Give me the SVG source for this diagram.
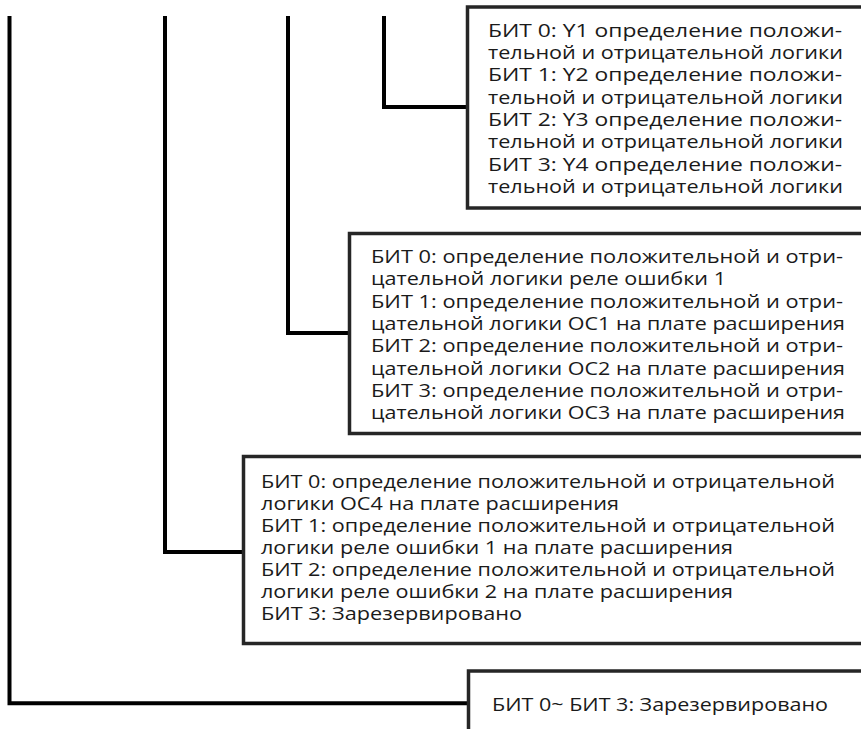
<svg xmlns="http://www.w3.org/2000/svg" width="861" height="729" viewBox="0 0 861 729">
<style>
.conn{fill:none;stroke:#000;stroke-width:4;stroke-linejoin:miter;stroke-linecap:butt}
.box{fill:#fff;stroke:#262626;stroke-width:3.5}
.t{font-family:"Open Sans","Noto Sans","DejaVu Sans",sans-serif;font-size:17.5px;fill:#1a1a1a}
</style>
<rect width="861" height="729" fill="#fff"/>
<g id="connectors">
<path class="conn" d="M384,16 V107 H467"/>
<path class="conn" d="M288,16 V333 H349"/>
<path class="conn" d="M165,16 V552 H243"/>
<path class="conn" d="M9.5,16 V703.3 H468"/>
</g>
<g id="node-bits-y">
<rect class="box" x="467.5" y="7" width="420" height="201"/>
<text class="t" x="488" y="36.7" textLength="354" lengthAdjust="spacingAndGlyphs">БИТ 0: Y1 определение положи-</text>
<text class="t" x="488" y="59" textLength="355" lengthAdjust="spacingAndGlyphs">тельной и отрицательной логики</text>
<text class="t" x="488" y="81.3" textLength="354" lengthAdjust="spacingAndGlyphs">БИТ 1: Y2 определение положи-</text>
<text class="t" x="488" y="103.6" textLength="355" lengthAdjust="spacingAndGlyphs">тельной и отрицательной логики</text>
<text class="t" x="488" y="125.9" textLength="354" lengthAdjust="spacingAndGlyphs">БИТ 2: Y3 определение положи-</text>
<text class="t" x="488" y="148.2" textLength="355" lengthAdjust="spacingAndGlyphs">тельной и отрицательной логики</text>
<text class="t" x="488" y="170.5" textLength="354" lengthAdjust="spacingAndGlyphs">БИТ 3: Y4 определение положи-</text>
<text class="t" x="488" y="192.8" textLength="355" lengthAdjust="spacingAndGlyphs">тельной и отрицательной логики</text>
</g>
<g id="node-bits-oc">
<rect class="box" x="349.5" y="233.5" width="560" height="200"/>
<text class="t" x="371" y="263" textLength="472" lengthAdjust="spacingAndGlyphs">БИТ 0: определение положительной и отри-</text>
<text class="t" x="371" y="285.3" textLength="355" lengthAdjust="spacingAndGlyphs">цательной логики реле ошибки 1</text>
<text class="t" x="371" y="307.6" textLength="472" lengthAdjust="spacingAndGlyphs">БИТ 1: определение положительной и отри-</text>
<text class="t" x="371" y="329.9" textLength="474" lengthAdjust="spacingAndGlyphs">цательной логики ОС1 на плате расширения</text>
<text class="t" x="371" y="352.2" textLength="472" lengthAdjust="spacingAndGlyphs">БИТ 2: определение положительной и отри-</text>
<text class="t" x="371" y="374.5" textLength="474" lengthAdjust="spacingAndGlyphs">цательной логики ОС2 на плате расширения</text>
<text class="t" x="371" y="396.8" textLength="472" lengthAdjust="spacingAndGlyphs">БИТ 3: определение положительной и отри-</text>
<text class="t" x="371" y="419.1" textLength="474" lengthAdjust="spacingAndGlyphs">цательной логики ОС3 на плате расширения</text>
</g>
<g id="node-bits-ext">
<rect class="box" x="243.5" y="456.5" width="660" height="187"/>
<text class="t" x="261" y="488" textLength="574" lengthAdjust="spacingAndGlyphs">БИТ 0: определение положительной и отрицательной</text>
<text class="t" x="261" y="510" textLength="358" lengthAdjust="spacingAndGlyphs">логики ОС4 на плате расширения</text>
<text class="t" x="261" y="532" textLength="574" lengthAdjust="spacingAndGlyphs">БИТ 1: определение положительной и отрицательной</text>
<text class="t" x="261" y="554" textLength="472" lengthAdjust="spacingAndGlyphs">логики реле ошибки 1 на плате расширения</text>
<text class="t" x="261" y="576" textLength="574" lengthAdjust="spacingAndGlyphs">БИТ 2: определение положительной и отрицательной</text>
<text class="t" x="261" y="598" textLength="472" lengthAdjust="spacingAndGlyphs">логики реле ошибки 2 на плате расширения</text>
<text class="t" x="261" y="620" textLength="261" lengthAdjust="spacingAndGlyphs">БИТ 3: Зарезервировано</text>
</g>
<g id="node-reserved">
<rect class="box" x="468.5" y="671" width="440" height="100"/>
<text class="t" x="492" y="710.7" textLength="336" lengthAdjust="spacingAndGlyphs">БИТ 0~ БИТ 3: Зарезервировано</text>
</g>
</svg>
